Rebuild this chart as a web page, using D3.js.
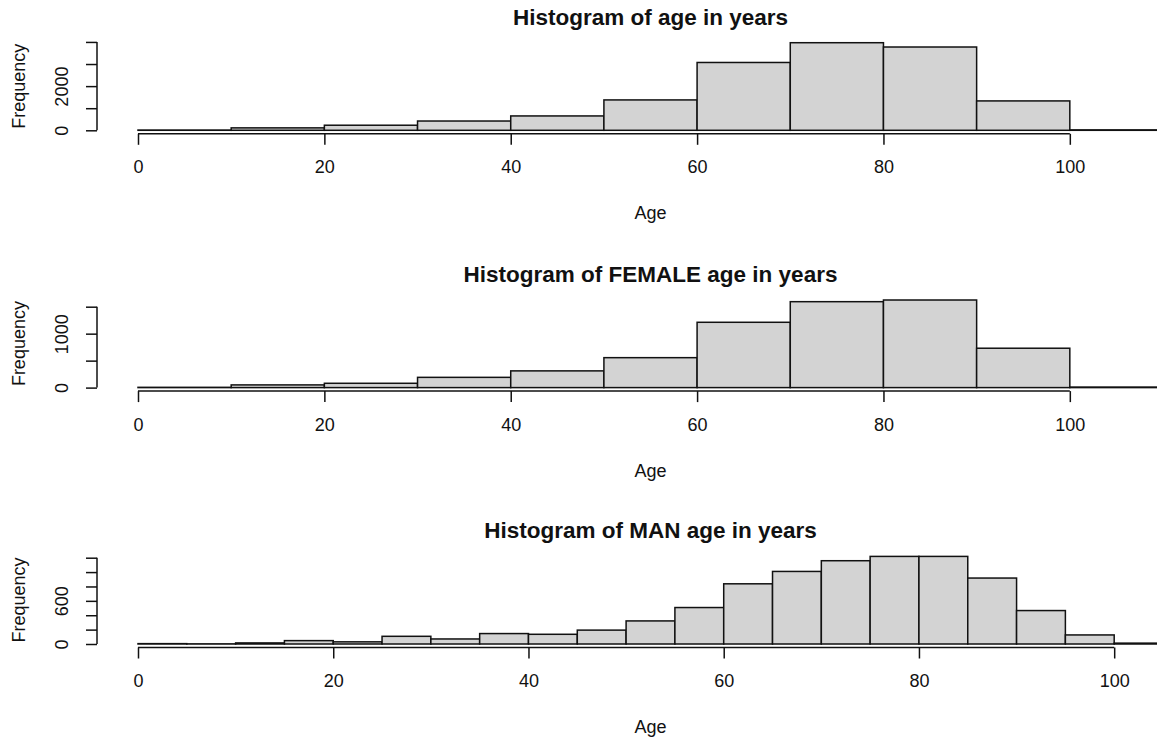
<!DOCTYPE html>
<html>
<head>
<meta charset="utf-8">
<script src="https://cdn.jsdelivr.net/npm/d3@7"></script>
<style>
  html, body { margin: 0; padding: 0; background: #fff; }
  svg { display: block; font-family: "Liberation Sans", Arial, Helvetica, sans-serif; }
</style>
</head>
<body>
<svg id="chart"></svg>
<script>
// Data
const BREAKS_10 = [0, 10, 20, 30, 40, 50, 60, 70, 80, 90, 100, 110];
const BREAKS_5 = [0, 5, 10, 15, 20, 25, 30, 35, 40, 45, 50, 55, 60, 65, 70, 75, 80, 85, 90, 95, 100, 105];
const ALL_COUNTS = [12, 110, 230, 420, 650, 1375, 3070, 3965, 3770, 1330, 20];
const FEMALE_COUNTS = [5, 50, 80, 190, 310, 555, 1211, 1593, 1624, 730, 10];
const MALE_COUNTS = [5, 2, 15, 47, 30, 107, 70, 145, 135, 193, 321, 507, 837, 1009, 1158, 1218, 1218, 917, 465, 126, 12];
const TITLES = ['Histogram of age in years', 'Histogram of FEMALE age in years', 'Histogram of MAN age in years'];
const Y_TICKS = [[0, 1000, 2000, 3000, 4000], [0, 500, 1000, 1500], [0, 200, 400, 600, 800, 1000, 1200]];
const Y_LABELS = [[0, 2000], [0, 1000], [0, 600]];
const X_TICKS = [0, 20, 40, 60, 80, 100];

const WIDTH = 1157, HEIGHT = 740;
const PLOT_LEFT = 97, PLOT_RIGHT = 1204;   // plot region runs past the right edge
const PLOT_H = 94.6;
const ZERO_Y = [130.3, 387.6, 644];         // baseline (0) of each panel
const FONT = 18;
const TITLE_FONT = 22.5;

const svg = d3.select('#chart').attr('width', WIDTH).attr('height', HEIGHT);

const panels = [
  { breaks: BREAKS_10, counts: ALL_COUNTS },
  { breaks: BREAKS_10, counts: FEMALE_COUNTS },
  { breaks: BREAKS_5, counts: MALE_COUNTS }
];

panels.forEach((p, k) => {
  const lo = p.breaks[0], hi = p.breaks[p.breaks.length - 1];
  const padX = 0.04 * (hi - lo);
  const x = d3.scaleLinear().domain([lo - padX, hi + padX]).range([PLOT_LEFT, PLOT_RIGHT]);

  // R style ylim: 4% extension on both ends
  const yMax = d3.max(p.counts);
  const dataPx = PLOT_H / 1.08;
  const y = d3.scaleLinear().domain([0, yMax]).range([ZERO_Y[k], ZERO_Y[k] - dataPx]);
  const axisY = y(-0.04 * yMax);

  const g = svg.append('g');

  const bins = p.counts.map((c, i) => ({ x0: p.breaks[i], x1: p.breaks[i + 1], n: c }));
  g.selectAll('rect')
    .data(bins).enter()
    .append('rect')
    .attr('x', d => x(d.x0))
    .attr('y', d => y(d.n))
    .attr('width', d => x(d.x1) - x(d.x0))
    .attr('height', d => y(0) - y(d.n))
    .attr('fill', '#d3d3d3')
    .attr('stroke', '#111')
    .attr('stroke-width', 1.5);

  // x axis
  const xAxis = g.append('g')
    .attr('transform', `translate(0, ${axisY})`)
    .call(d3.axisBottom(x).tickValues(X_TICKS).tickSize(11).tickPadding(0).tickSizeOuter(0));
  xAxis.select('.domain').attr('d', `M${x(X_TICKS[0])},0H${x(X_TICKS[X_TICKS.length - 1])}`)
    .attr('stroke', '#111').attr('stroke-width', 1.5);
  xAxis.selectAll('.tick line').attr('stroke', '#111').attr('stroke-width', 1.5);
  xAxis.selectAll('.tick text')
    .attr('y', ZERO_Y[k] + 36.7 - axisY).attr('dy', '0.35em')
    .attr('fill', '#111').style('font-size', FONT + 'px').style('font-family', null);

  // y axis
  const yt = Y_TICKS[k];
  const yAxis = g.append('g')
    .attr('transform', `translate(${PLOT_LEFT}, 0)`)
    .call(d3.axisLeft(y).tickValues(yt).tickSize(11).tickSizeOuter(0)
      .tickFormat(d => Y_LABELS[k].includes(d) ? d : ''));
  yAxis.select('.domain').attr('d', `M0,${y(yt[0])}V${y(yt[yt.length - 1])}`)
    .attr('stroke', '#111').attr('stroke-width', 1.5);
  yAxis.selectAll('.tick line').attr('stroke', '#111').attr('stroke-width', 1.5);
  yAxis.selectAll('.tick text')
    .attr('transform', 'rotate(-90)')
    .attr('x', 0).attr('y', -29).attr('dy', 0)
    .attr('text-anchor', 'middle')
    .attr('fill', '#111').style('font-size', FONT + 'px').style('font-family', null);

  // labels
  g.append('text')
    .attr('transform', `translate(25, ${ZERO_Y[k] - 44}) rotate(-90)`)
    .attr('text-anchor', 'middle')
    .style('font-size', FONT + 'px')
    .attr('fill', '#111')
    .text('Frequency');

  g.append('text')
    .attr('x', (PLOT_LEFT + PLOT_RIGHT) / 2)
    .attr('y', ZERO_Y[k] + 82.7)
    .attr('dy', '0.35em')
    .attr('text-anchor', 'middle')
    .style('font-size', FONT + 'px')
    .attr('fill', '#111')
    .text('Age');

  g.append('text')
    .attr('x', (PLOT_LEFT + PLOT_RIGHT) / 2)
    .attr('y', ZERO_Y[k] - 113.5)
    .attr('dy', '0.35em')
    .attr('text-anchor', 'middle')
    .style('font-size', TITLE_FONT + 'px')
    .style('font-weight', 'bold')
    .attr('fill', '#111')
    .text(TITLES[k]);
});
</script>
</body>
</html>
